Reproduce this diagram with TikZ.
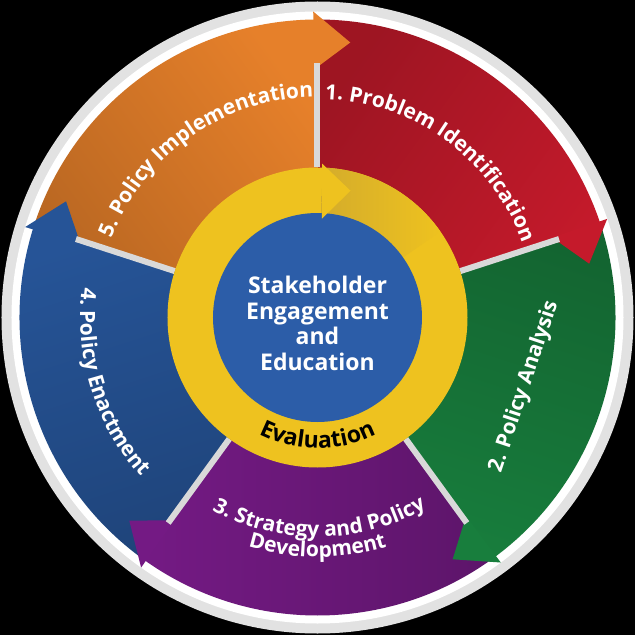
\documentclass[tikz,border=0pt]{standalone}
\usepackage{fontspec}
\setmainfont{Open Sans}
\usetikzlibrary{decorations.text}

\definecolor{ringgray}{HTML}{E2E2E2}
\definecolor{sepgray}{HTML}{D9D9D9}
\definecolor{pred}{HTML}{C51A2B}
\definecolor{pgreen}{HTML}{187E3D}
\definecolor{ppurple}{HTML}{741A84}
\definecolor{pblue}{HTML}{265497}
\definecolor{porange}{HTML}{E6802A}
\definecolor{ringyellow}{HTML}{EEC21F}
\definecolor{yellowshade}{HTML}{D4AC2B}
\definecolor{coreblue}{HTML}{2C5DA8}

\newcommand{\labfont}{\fontsize{21}{21}\selectfont\bfseries\color{white}}
\newcommand{\evalfont}{\fontsize{23}{23}\selectfont\bfseries\color{black}}

\begin{document}
\begin{tikzpicture}[x=1pt,y=1pt,
    sepline/.style={draw=sepgray, line width=6pt},
    labtext/.style={text=white, font=\fontsize{21}{21}\selectfont\bfseries},
    curved/.style={decorate, decoration={text along path, text align=center, text={#1}}}]

  \useasboundingbox (-317.5,-317.5) rectangle (317.5,317.5);
  \fill[black] (-317.5,-317.5) rectangle (317.5,317.5);
  \fill[ringgray] (0,0) circle (316);
  \fill[white] (0,0) circle (306);

  % five stages, darker where the previous arrow comes in
  \foreach \s/\c in {90/pred, 18/pgreen, -54/ppurple, -126/pblue, 162/porange}
    \shade[top color=\c, middle color=\c, bottom color=\c!80!black, shading angle=\s-216]
      (0,0) -- (\s:298) arc[start angle=\s, delta angle=-72, radius=298] -- cycle;

  \foreach \s/\c in {90/pred, 18/pgreen, -54/ppurple, -126/pblue, 162/porange}
    \fill[\c] (\s-71.2:248) -- (\s-71.2:306) -- (\s-78.8:277) -- cycle;

  \foreach \a in {90, 18, -54, -126, 162}
    \draw[sepline] (\a:150) -- (\a:254);

  % evaluation ring
  \fill[ringyellow] (0,0) circle (150);
  \shade[left color=yellowshade, right color=ringyellow]
    (88:150) arc[start angle=88, end angle=35, radius=150]
    -- (35:104) arc[start angle=35, end angle=88, radius=104] -- cycle;
  \fill[coreblue] (0,0) circle (104.5);
  \fill[ringyellow] (88.3:154) -- (75.4:131) -- (87.4:99) -- cycle;

  \node (core) [align=center, text=white, font=\fontsize{23}{25.7}\selectfont\bfseries]
    at (0,-6) {Stakeholder\\Engagement\\and\\Education};

  \path[curved={|\evalfont|Evaluation}]
    (215:131) arc[start angle=215, end angle=325, radius=131];

  % stage labels
  \path[curved={|\labfont|1. Problem Identification}]
    (104:218.5) arc[start angle=104, end angle=4, radius=218.5];
  \node (analysis) [labtext, rotate=71.5] at (-18.5:218) {2. Policy Analysis};
  \path[curved={|\labfont|3. Strategy and Policy}]
    (220:219.5) arc[start angle=220, end angle=321, radius=219.5];
  \path[curved={|\labfont|Development}]
    (220:239.5) arc[start angle=220, end angle=320, radius=239.5];
  \path[curved={|\labfont|4. Policy Enactment}]
    (147.4:237.5) arc[start angle=147.4, end angle=247.4, radius=237.5];
  \path[curved={|\labfont|5. Policy Implementation}]
    (175:220.5) arc[start angle=175, end angle=75, radius=220.5];

\end{tikzpicture}
\end{document}
